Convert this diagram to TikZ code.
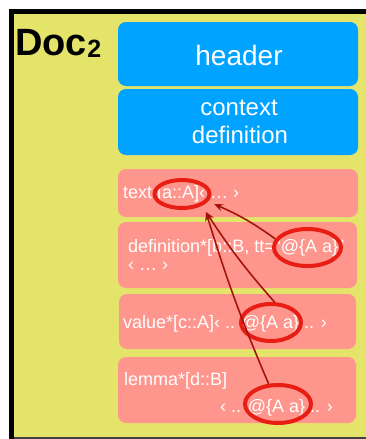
\documentclass[tikz,border=0pt]{standalone}
\usepackage{fontspec}
\setmainfont{Liberation Sans}
\usetikzlibrary{shapes.geometric,arrows.meta}
\definecolor{docyellow}{RGB}{228,228,106}
\definecolor{boxblue}{RGB}{0,163,255}
\definecolor{boxpink}{RGB}{255,150,142}
\definecolor{ringred}{RGB}{232,30,20}
\definecolor{arrowred}{RGB}{165,20,10}
\begin{document}
\begin{tikzpicture}[x=1pt,y=-1pt,
  bluebox/.style={fill=boxblue, rounded corners=8pt, inner sep=0pt},
  pinkbox/.style={fill=boxpink, rounded corners=8pt, inner sep=0pt},
  ring/.style={ellipse, draw=ringred, line width=4pt, inner sep=0pt},
  link/.style={draw=arrowred, line width=1.6pt, -{Stealth[length=9pt,width=7pt]}},
  txt/.style={text=white, inner sep=0pt, anchor=base west, font=\fontsize{18}{20}\selectfont},
  bigtxt/.style={text=white, inner sep=0pt, anchor=base}]
\useasboundingbox (0,0) rectangle (366,439);
\fill[black] (9,9) rectangle (366,439);
\fill[docyellow] (14,14) rectangle (366,437);
\fill[black!75] (14,437) rectangle (366,439);

\node[inner sep=0pt, anchor=base west, font=\fontsize{38}{40}\selectfont\bfseries] (doc) at (15,55) {Doc};
\node[inner sep=0pt, anchor=base west, font=\fontsize{25}{27}\selectfont\bfseries] (sub) at ([yshift=-2pt]doc.base east) {2};

\node[bluebox, minimum width=240pt, minimum height=64pt] (header) at (238,54) {};
\node[bigtxt, font=\fontsize{28}{30}\selectfont] (headertxt) at (239,65) {header};
\node[bluebox, minimum width=240pt, minimum height=66pt] (ctx) at (238,122) {};
\node[bigtxt, font=\fontsize{24}{26}\selectfont] (ctx1) at (239,115) {context};
\node[bigtxt, font=\fontsize{24}{26}\selectfont] (ctx2) at (240,143) {definition};

\node[pinkbox, minimum width=240pt, minimum height=48pt] (textbox) at (238,193) {};
\node[pinkbox, minimum width=239pt, minimum height=66pt] (defbox) at (237.5,255) {};
\node[pinkbox, minimum width=237pt, minimum height=55pt] (valbox) at (237.5,321.5) {};
\node[pinkbox, minimum width=238pt, minimum height=66pt] (lembox) at (237,390) {};

\node[txt] (tt) at (123,198) {text [a::A]‹ … ›};
\node[txt] (dt1) at (128,252) {definition*[b::B, tt=“@\{A a\}”};
\node[txt] (dt2) at (128,270) {‹ … ›};
\node[txt] (vt) at (123,328) {value*[c::A]‹ .. @\{A a\} .. ›};
\node[txt] (lt1) at (124,385) {lemma*[d::B]};
\node[txt] (lt2) at (220,412) {‹ .. @\{A a\} .. ›};

\node[ring, minimum width=55pt, minimum height=28pt] (e1) at (182,194) {};
\node[ring, minimum width=67pt, minimum height=37pt] (e2) at (307.5,247.5) {};
\node[ring, minimum width=60pt, minimum height=37pt] (e3) at (271,322.5) {};
\node[ring, minimum width=66pt, minimum height=38pt] (e4) at (278,404) {};

\coordinate (t1) at (214,204);
\coordinate (t2) at (206,212);
\draw[link] (e2.165) to[bend right=6] (t1);
\draw[link] (e3.80) to[bend left=4] (t2);
\draw[link] (e4.115) to[bend left=3] (t2);
\end{tikzpicture}
\end{document}
